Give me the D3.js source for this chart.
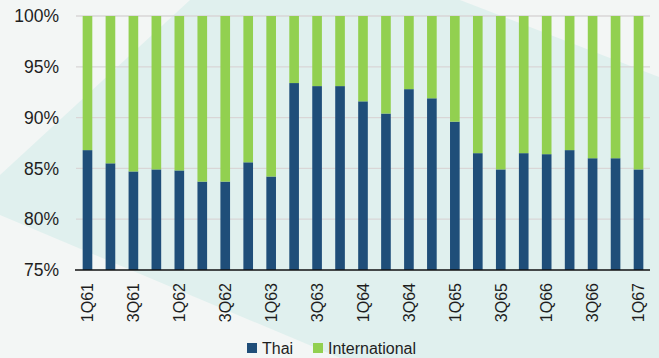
<!DOCTYPE html>
<html>
<head>
<meta charset="utf-8">
<script src="https://cdn.jsdelivr.net/npm/d3@7"></script>
<style>
  html, body { margin: 0; padding: 0; background: #f2f6f5; }
  svg { display: block; font-family: Arial, "Liberation Sans", sans-serif; }
</style>
</head>
<body>
<svg id="chart" width="659" height="358"></svg>
<script>
// Quarterly share of passengers, Thai vs. international (percent)
const quarters = [
  "1Q61","2Q61","3Q61","4Q61","1Q62","2Q62","3Q62","4Q62",
  "1Q63","2Q63","3Q63","4Q63","1Q64","2Q64","3Q64","4Q64",
  "1Q65","2Q65","3Q65","4Q65","1Q66","2Q66","3Q66","4Q66","1Q67"
];
const thaiShare = [
  86.8, 85.5, 84.7, 84.9, 84.8, 83.7, 83.7, 85.6,
  84.2, 93.4, 93.1, 93.1, 91.6, 90.4, 92.8, 91.9,
  89.6, 86.5, 84.9, 86.5, 86.4, 86.8, 86.0, 86.0, 84.9
];
const internationalShare = thaiShare.map(v => +(100 - v).toFixed(1));
const yTicks = [75, 80, 85, 90, 95, 100];
const tickLabels = quarters.filter((q, i) => i % 2 === 0);
const seriesNames = ["Thai", "International"];
const colors = { Thai: "#1f4e79", International: "#92d050" };

const svg = d3.select("#chart");
const W = 659, H = 358;
const margin = { top: 16, right: 9, bottom: 88, left: 76 };
const innerW = W - margin.left - margin.right;
const innerH = H - margin.top - margin.bottom;

// Soft background panels
const bg = svg.append("g");
bg.append("rect").attr("width", W).attr("height", H).attr("fill", "#f3f6f5");
bg.append("polygon")
  .attr("points", "190,0 460,0 659,77 659,358 340,358 0,215 0,175")
  .attr("fill", "#e0f0ee");

const rows = quarters.map((q, i) => ({
  quarter: q, Thai: thaiShare[i], International: internationalShare[i]
}));
const stacked = d3.stack().keys(seriesNames)
  .offset(d3.stackOffsetExpand)(rows);

const x = d3.scaleBand().domain(quarters).range([0, innerW]).paddingInner(0.58).paddingOuter(0.29);
const y = d3.scaleLinear().domain([75, 100]).range([innerH, 0]);

const g = svg.append("g").attr("transform", `translate(${margin.left},${margin.top})`);

// Gridlines
g.append("g").selectAll("line")
  .data(yTicks.filter(t => t > 75))
  .join("line")
  .attr("x1", 0).attr("x2", innerW)
  .attr("y1", d => y(d)).attr("y2", d => y(d))
  .attr("stroke", "#d9d6d6").attr("stroke-width", 1.3);

// Stacked bars (expand offset gives shares 0..1, shown as percent)
const clampY = v => y(Math.max(75, Math.min(100, v * 100)));
g.append("g").selectAll("g")
  .data(stacked)
  .join("g")
  .attr("fill", d => colors[d.key])
  .selectAll("rect")
  .data(d => d)
  .join("rect")
  .attr("x", d => x(d.data.quarter))
  .attr("width", x.bandwidth())
  .attr("y", d => clampY(d[1]))
  .attr("height", d => clampY(d[0]) - clampY(d[1]));

// Y axis labels
const yAxis = d3.axisLeft(y).tickValues(yTicks).tickFormat(d => d + "%").tickSize(0).tickPadding(17);
g.append("g").call(yAxis)
  .call(a => a.select(".domain").remove())
  .selectAll("text")
  .attr("font-size", 17.5).attr("fill", "#1e1e1e").attr("font-family", "Arial, 'Liberation Sans', sans-serif");

// X axis
const xAxis = d3.axisBottom(x).tickValues(tickLabels).tickSize(0);
const xa = g.append("g").attr("transform", `translate(0,${innerH})`).call(xAxis);
xa.select(".domain").attr("stroke", "#111").attr("stroke-width", 1.6)
  .attr("d", `M-1,0H${innerW}`);
xa.selectAll("text")
  .attr("font-size", 16).attr("fill", "#1e1e1e")
  .attr("font-family", "Arial, 'Liberation Sans', sans-serif")
  .attr("transform", "rotate(-90)")
  .attr("text-anchor", "end")
  .attr("dy", "0.36em")
  .attr("x", -13).attr("y", 0);

// Legend
const legend = svg.append("g").attr("transform", "translate(247,0)");
const legendItems = [
  { name: seriesNames[0], x: 0 },
  { name: seriesNames[1], x: 66 }
];
legendItems.forEach(item => {
  legend.append("rect").attr("x", item.x).attr("y", 343).attr("width", 10).attr("height", 10)
    .attr("fill", colors[item.name]);
  legend.append("text").attr("x", item.x + 15).attr("y", 353.5)
    .attr("font-size", 16).attr("fill", "#1e1e1e").text(item.name);
});
</script>
</body>
</html>
